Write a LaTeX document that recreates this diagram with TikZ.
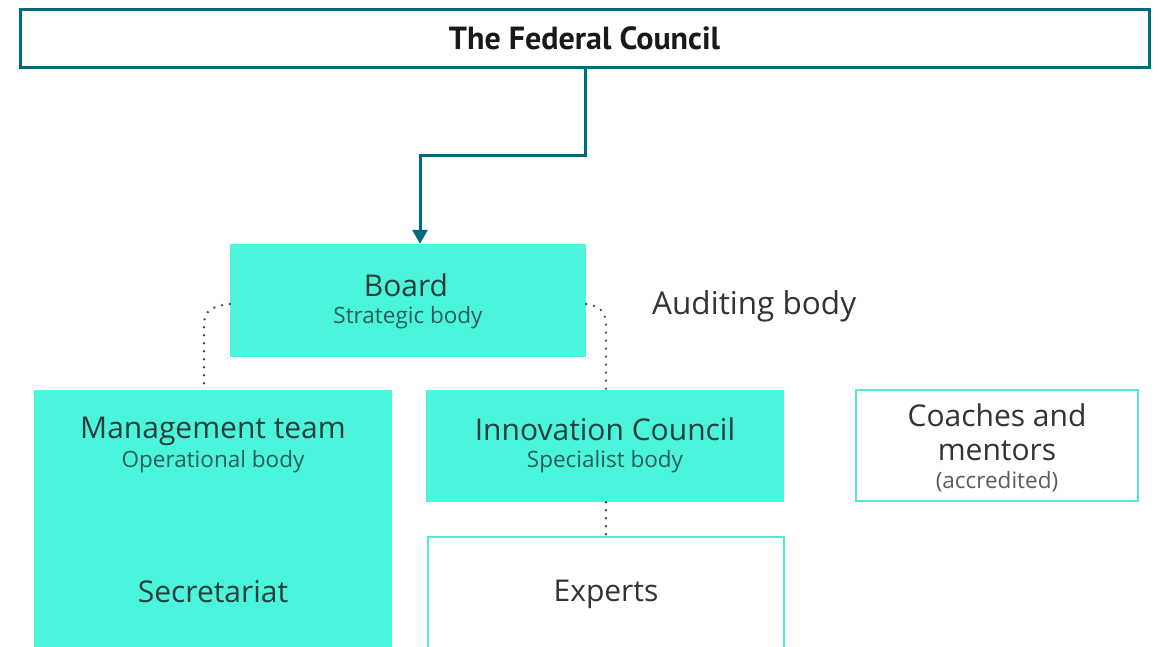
\documentclass[tikz,border=0pt]{standalone}
\usepackage{fontspec}
\setmainfont{Open Sans}
\newfontfamily\titlefont{PT Sans}
\usetikzlibrary{arrows.meta}
\definecolor{teal}{HTML}{006B7A}
\definecolor{turq}{HTML}{4BF5DC}
\definecolor{turqline}{HTML}{52E8D2}
\definecolor{headtxt}{HTML}{263D3B}
\definecolor{subtxt}{HTML}{2B5E58}
\definecolor{graytxt}{HTML}{333333}
\definecolor{dotc}{HTML}{4A4A4A}
\tikzset{
  fillbox/.style={fill=turq, draw=none},
  linebox/.style={fill=white, draw=turqline, line width=2.2pt},
  head/.style={font=\fontsize{30}{32}\selectfont, text=headtxt, inner sep=0pt},
  sub/.style={font=\fontsize{22.5}{24}\selectfont, text=subtxt, inner sep=0pt},
  plain/.style={font=\fontsize{30}{32}\selectfont, text=graytxt, inner sep=0pt},
  dotline/.style={draw=dotc, line width=2.6pt, line cap=round, dash pattern=on 0pt off 8pt},
  feedarrow/.style={draw=teal, line width=3pt, -{Triangle[width=15pt,length=14pt]}},
}
\begin{document}
\begin{tikzpicture}[x=1pt,y=-1pt]
\useasboundingbox (0,0) rectangle (1158,646);
\clip (0,0) rectangle (1158,646);
% Federal Council
\node[draw=teal, line width=3pt, fill=white, minimum width=1129pt, minimum height=58pt, inner sep=0pt,
  font=\titlefont\bfseries\fontsize{32}{34}\selectfont, text=black!90] (fc) at (584.5,38) {The Federal Council};
% Board
\node[fillbox, minimum width=356pt, minimum height=113pt, inner sep=0pt] (board) at (408,300.5) {};
\node[head] (boardt) at (406,285) {Board};
\node[sub] (boards) at (408,318) {Strategic body};
% Auditing body
\node[plain, anchor=west, font=\fontsize{31.5}{33}\selectfont] (audit) at (652,306) {Auditing body};
% Management team
\node[fillbox, minimum width=358pt, minimum height=270pt, inner sep=0pt] (mgmt) at (213,525) {};
\node[head] (mgmtt) at (213,431) {Management team};
\node[sub] (mgmts) at (213,462) {Operational body};
\node[plain, text=headtxt] (secr) at (213,592) {Secretariat};
% Innovation Council
\node[fillbox, minimum width=358pt, minimum height=112pt, inner sep=0pt] (innov) at (605,446) {};
\node[head] (innovt) at (605,429) {Innovation Council};
\node[sub] (innovs) at (605,462) {Specialist body};
% Experts
\node[linebox, minimum width=356pt, minimum height=140pt, inner sep=0pt] (experts) at (606,607) {};
\node[plain] (expt) at (606,594) {Experts};
% Coaches
\node[linebox, minimum width=282pt, minimum height=111pt, inner sep=0pt] (coach) at (997,445.5) {};
\node[plain, align=center] (coacht) at (997,432) {Coaches and\\[2pt]mentors};
\node[sub, text=graytxt!80] (coachs) at (997,482) {(accredited)};
% arrow
\coordinate (a1) at (585,155);
\coordinate (a2) at (420,155);
\draw[feedarrow] (fc.south -| a1) -- (a1) -- (a2) -- (a2 |- board.north);
% dotted connectors
\draw[dotline] (board.west |- 0,304) .. controls (210,306) and (204,312) .. (204,325) -- (mgmt.north -| 204,0);
\draw[dotline] (board.east |- 0,304) .. controls (600,306) and (606,312) .. (606,325) -- (innov.north -| 606,0);
\draw[dotline] (innov.south -| experts.north) -- (experts.north);
\end{tikzpicture}
\end{document}
